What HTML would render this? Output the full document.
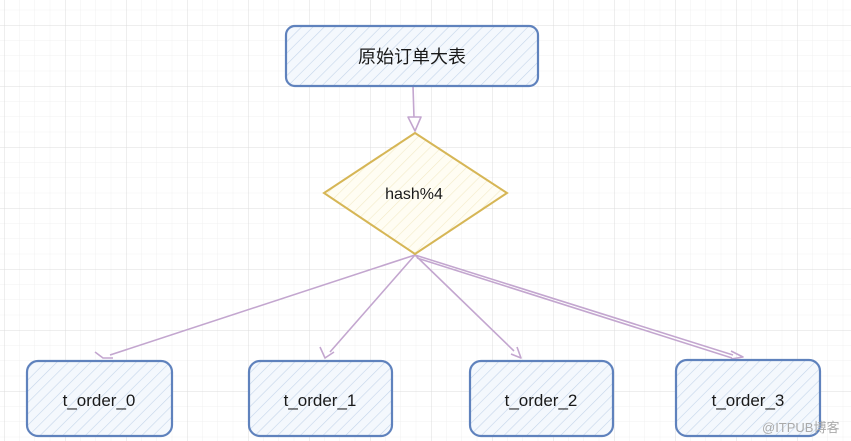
<!DOCTYPE html>
<html><head><meta charset="utf-8"><style>
html,body{margin:0;padding:0;background:#fff;}
svg{display:block;}
text{font-family:"Liberation Sans","Noto Sans CJK SC",sans-serif;fill:#1a1a1a;}
</style></head><body>
<svg width="851" height="441" viewBox="0 0 851 441" xmlns="http://www.w3.org/2000/svg">
<defs>
<pattern id="minor" x="4" y="25" width="15.25" height="15.25" patternUnits="userSpaceOnUse">
<path d="M0 0V15.25M0 0H15.25" stroke="#f0f0f0" stroke-width="1" fill="none"/>
</pattern>
<pattern id="major" x="4" y="25" width="61" height="61" patternUnits="userSpaceOnUse">
<path d="M0 0V61M0 0H61" stroke="#dcdcdc" stroke-width="1" fill="none"/>
</pattern>
<pattern id="hb" width="8" height="8" patternUnits="userSpaceOnUse" patternTransform="rotate(45)">
<rect width="8" height="8" fill="#f4f8fd"/>
<line x1="0" y1="0" x2="0" y2="8" stroke="#c5d5ea" stroke-width="1.2"/>
</pattern>
<pattern id="hy" width="8" height="8" patternUnits="userSpaceOnUse" patternTransform="rotate(45)">
<rect width="8" height="8" fill="#fffdf3"/>
<line x1="0" y1="0" x2="0" y2="8" stroke="#f3ebc8" stroke-width="1.2"/>
</pattern>
</defs>
<rect width="851" height="441" fill="url(#minor)"/>
<rect width="851" height="441" fill="url(#major)"/>

<g stroke="#c3a6cf" stroke-width="1.6" fill="none" stroke-linejoin="round">
<path d="M413 86 L414 118"/>
<path d="M408 117 L415 131 L421 117 Z" fill="#fff"/>
<path d="M415 255 L110 355"/>
<path d="M95 352 L103 358 L113 358"/>
<path d="M415 255 L330 352"/>
<path d="M320 347 L325 358 L334 352"/>
<path d="M415 255 L514 351"/>
<path d="M511 354 L521 358 L517 347"/>
<path d="M415 255 L733 355"/>
<path d="M417 258 L732 358"/>
<path d="M731 351 L743 357 L731 359"/>
</g>

<rect x="286" y="26" width="252" height="60" rx="9" fill="url(#hb)" stroke="#5f82bd" stroke-width="2.2"/>
<text x="412" y="63" font-size="18" text-anchor="middle">原始订单大表</text>

<polygon points="415,133 507,193 415,254 324,193" fill="url(#hy)" stroke="#d6b656" stroke-width="2"/>
<text x="414" y="199" font-size="16" text-anchor="middle">hash%4</text>

<g stroke="#5f82bd" stroke-width="2.2">
<rect x="27" y="361" width="145" height="75" rx="11" fill="url(#hb)"/>
<rect x="249" y="361" width="143" height="75" rx="11" fill="url(#hb)"/>
<rect x="470" y="361" width="143" height="75" rx="11" fill="url(#hb)"/>
<rect x="676" y="360" width="144" height="76" rx="11" fill="url(#hb)"/>
</g>
<g font-size="17" text-anchor="middle">
<text x="99" y="406">t_order_0</text>
<text x="320" y="406">t_order_1</text>
<text x="541" y="406">t_order_2</text>
<text x="748" y="406">t_order_3</text>
</g>
<text x="762" y="432" font-size="13" style="fill:#aaa">@ITPUB博客</text>
</svg>
</body></html>
